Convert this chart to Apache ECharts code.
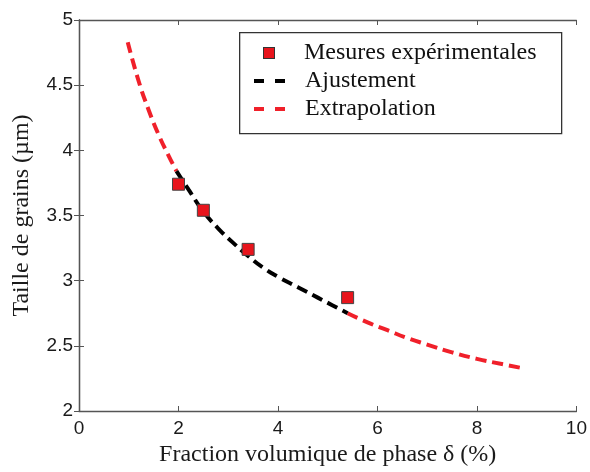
<!DOCTYPE html>
<html><head><meta charset="utf-8">
<script src="https://cdn.jsdelivr.net/npm/echarts@6/dist/echarts.min.js"></script>
<style>html,body{margin:0;padding:0;background:#fff}#c{width:590px;height:472px}</style>
</head><body><div id="c"></div>
<script>
const measX = [2.0, 2.5, 3.4, 5.4];
const measY = [3.74, 3.54, 3.24, 2.87];
const fitX = [1.96, 2.2, 2.5, 2.8, 3.1, 3.4, 3.7, 4.0, 4.4, 4.8, 5.1, 5.4];
const fitY = [3.84, 3.70, 3.53, 3.40, 3.29, 3.19, 3.10, 3.03, 2.95, 2.87, 2.81, 2.75];
const extLowX = [0.98, 1.2, 1.4, 1.6, 1.8, 1.96];
const extLowY = [4.83, 4.53, 4.31, 4.12, 3.96, 3.84];
const extHighX = [5.4, 5.8, 6.2, 6.6, 7.0, 7.5, 8.0, 8.5, 8.9];
const extHighY = [2.75, 2.68, 2.62, 2.56, 2.51, 2.45, 2.40, 2.36, 2.33];
const xTicks = [0, 2, 4, 6, 8, 10];
const yTicks = [2, 2.5, 3, 3.5, 4, 4.5, 5];
const names = ['Mesures expérimentales', 'Ajustement', 'Extrapolation'];

const zip = (a, b) => a.map((v, i) => [v, b[i]]);
const axisColor = '#555';
const red = '#f0202a';
const serif = 'Liberation Serif';
const chart = echarts.init(document.getElementById('c'));
const baseX = {
  type: 'value', min: xTicks[0], max: xTicks[xTicks.length - 1], interval: 2,
  axisLine: {show: true, lineStyle: {color: axisColor, width: 1.3}},
  axisTick: {show: true, inside: true, length: 5, lineStyle: {color: axisColor}},
  splitLine: {show: false}
};
const baseY = {
  type: 'value', min: yTicks[0], max: yTicks[yTicks.length - 1], interval: 0.5,
  axisLine: {show: true, lineStyle: {color: axisColor, width: 1.3}},
  axisTick: {show: true, inside: true, length: 5, lineStyle: {color: axisColor}},
  splitLine: {show: false}
};
const iconFor = {};
iconFor[names[0]] = '{sp|}{mk|}{sp|}';
iconFor[names[1]] = '{dk|}{g|}{dk|}';
iconFor[names[2]] = '{dr|}{g|}{dr|}';
chart.setOption({
  animation: false,
  backgroundColor: '#fff',
  grid: {left: 79, right: 12, top: 20, bottom: 58, containLabel: false},
  graphic: [{
    type: 'rect', left: 239, top: 32, z: 5,
    shape: {width: 322, height: 101},
    style: {fill: '#fff', stroke: '#333', lineWidth: 1.3}
  }],
  xAxis: [
    Object.assign({}, baseX, {
      position: 'bottom',
      name: 'Fraction volumique de phase δ (%)', nameLocation: 'middle', nameGap: 32,
      nameTextStyle: {fontFamily: serif, fontSize: 24, color: '#1a1a1a'},
      axisLabel: {fontFamily: 'Liberation Sans', fontSize: 19, color: '#1a1a1a', margin: 8}
    }),
    Object.assign({}, baseX, {position: 'top', axisLabel: {show: false}})
  ],
  yAxis: [
    Object.assign({}, baseY, {
      position: 'left',
      name: 'Taille de grains (µm)', nameLocation: 'middle', nameGap: 45,
      nameTextStyle: {fontFamily: serif, fontSize: 24, color: '#1a1a1a'},
      axisLabel: {fontFamily: 'Liberation Sans', fontSize: 19, color: '#1a1a1a', margin: 6}
    }),
    Object.assign({}, baseY, {position: 'right', axisLabel: {show: false}})
  ],
  legend: {
    left: 248, top: 41, orient: 'vertical', itemGap: 4, itemWidth: 0, itemHeight: 0,
    padding: 0, z: 10, icon: 'rect',
    itemStyle: {opacity: 0}, lineStyle: {opacity: 0},
    formatter: n => iconFor[n] + '{gp|}{t|' + n + '}',
    textStyle: {
      fontFamily: serif, fontSize: 24, color: '#111',
      rich: {
        t: {fontFamily: serif, fontSize: 24, color: '#111', verticalAlign: 'middle'},
        sp: {width: 10, height: 11, verticalAlign: 'middle'},
        mk: {width: 10, height: 10, backgroundColor: '#e8141c', borderColor: '#333', borderWidth: 1, verticalAlign: 'middle'},
        dk: {width: 10, height: 4, backgroundColor: '#000', verticalAlign: 'middle'},
        dr: {width: 10, height: 4, backgroundColor: red, verticalAlign: 'middle'},
        g: {width: 11, height: 4, verticalAlign: 'middle'},
        gp: {width: 20, height: 4, verticalAlign: 'middle'}
      }
    },
    data: names
  },
  series: [
    {name: names[2], type: 'line', data: zip(extLowX, extLowY), symbol: 'none', smooth: true,
     lineStyle: {color: red, width: 4, type: [11, 6]}, itemStyle: {color: red}, z: 2},
    {name: names[2], type: 'line', data: zip(extHighX, extHighY), symbol: 'none', smooth: true,
     lineStyle: {color: red, width: 4, type: [11, 6]}, itemStyle: {color: red}, z: 2},
    {name: names[1], type: 'line', data: zip(fitX, fitY), symbol: 'none', smooth: true,
     lineStyle: {color: '#000', width: 4, type: [11, 6]}, itemStyle: {color: '#000'}, z: 3},
    {name: names[0], type: 'scatter', data: zip(measX, measY), symbol: 'rect', symbolSize: 12,
     itemStyle: {color: '#e8141c', borderColor: '#444', borderWidth: 1, opacity: 1}, z: 4}
  ]
});
</script></body></html>
